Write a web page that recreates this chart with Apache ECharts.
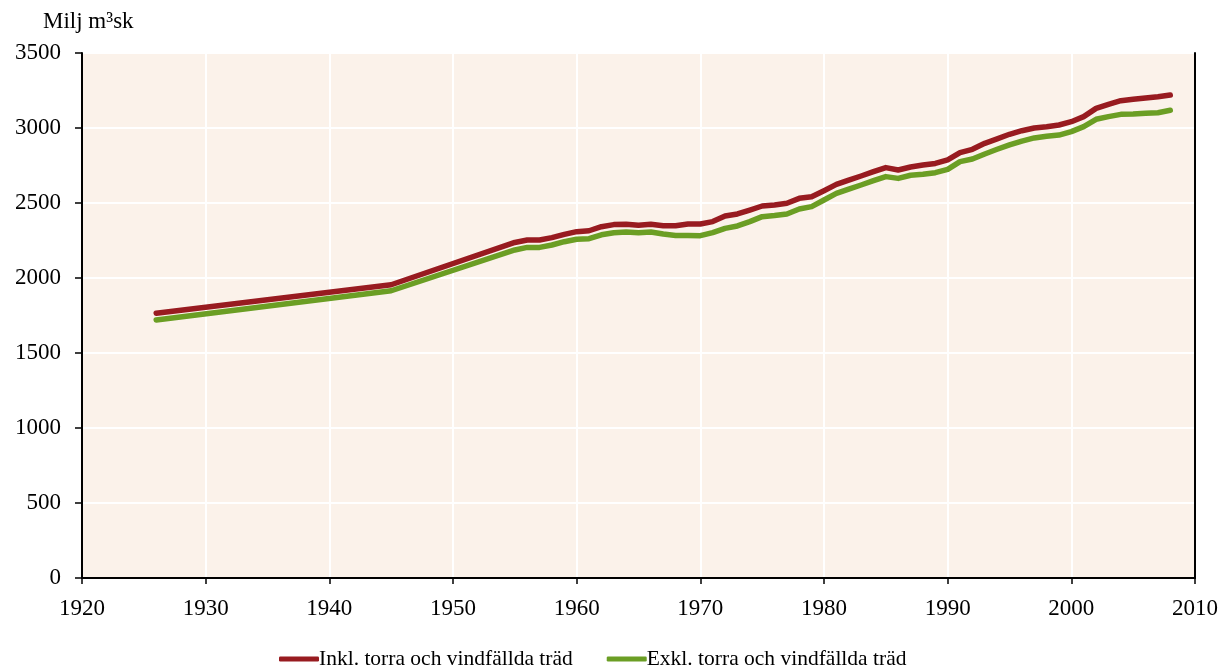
<!DOCTYPE html>
<html>
<head>
<meta charset="utf-8">
<script src="https://cdn.jsdelivr.net/npm/echarts@6/dist/echarts.min.js"></script>
<style>
  html, body { margin: 0; padding: 0; background: #fff; }
  #chart { width: 1230px; height: 670px; }
</style>
</head>
<body>
<div id="chart"></div>
<script>
// år och volymer, milj m3sk
const years = [1926, 1945, 1955, 1956, 1957, 1958, 1959, 1960, 1961, 1962, 1963, 1964, 1965, 1966, 1967, 1968, 1969, 1970,
  1971, 1972, 1973, 1974, 1975, 1976, 1977, 1978, 1979, 1980, 1981, 1982, 1983, 1984, 1985, 1986, 1987, 1988, 1989, 1990,
  1991, 1992, 1993, 1994, 1995, 1996, 1997, 1998, 1999, 2000, 2001, 2002, 2003, 2004, 2005, 2006, 2007, 2008];
const inkl = [1765, 1955, 2237, 2253, 2253, 2269, 2291, 2309, 2315, 2342, 2356, 2358, 2351, 2358, 2349, 2349, 2360, 2360,
  2376, 2413, 2427, 2453, 2480, 2487, 2498, 2531, 2542, 2582, 2624, 2653, 2680, 2709, 2736, 2720, 2740, 2753, 2764, 2787,
  2836, 2858, 2898, 2927, 2958, 2982, 3000, 3009, 3020, 3042, 3076, 3131, 3158, 3182, 3191, 3200, 3209, 3220];
const exkl = [1720, 1915, 2187, 2204, 2204, 2220, 2242, 2258, 2262, 2288, 2302, 2307, 2302, 2307, 2293, 2284, 2284, 2282,
  2302, 2331, 2347, 2376, 2409, 2416, 2427, 2460, 2476, 2520, 2564, 2593, 2620, 2649, 2676, 2664, 2685, 2691, 2702, 2724,
  2776, 2793, 2827, 2858, 2887, 2913, 2934, 2945, 2953, 2976, 3009, 3058, 3076, 3091, 3093, 3098, 3102, 3118];
const seriesNames = ['Inkl. torra och vindfällda träd', 'Exkl. torra och vindfällda träd'];

const font = 'Liberation Serif, Times New Roman, serif';
const chart = echarts.init(document.getElementById('chart'));

const pairs = (vals) => years.map((y, i) => [y, vals[i]]);
const plain = (v) => String(v);

// ram runt ritytan (topp och höger)
const frameAxis = { show: true, lineStyle: { color: '#000', width: 2 } };

chart.setOption({
  animation: false,
  title: {
    text: 'Milj m³sk',
    left: 38, top: 5,
    textStyle: { fontFamily: font, fontSize: 23, fontWeight: 'normal', color: '#000' }
  },
  legend: {
    top: 648,
    left: 279,
    padding: 0,
    itemWidth: 40, itemHeight: 5,
    itemGap: 34,
    icon: 'roundRect',
    textStyle: { fontFamily: font, fontSize: 21.5, color: '#000', padding: [0, 0, 0, -5] },
    data: seriesNames
  },
  grid: {
    left: 82, right: 35, top: 53, bottom: 92,
    show: true,
    backgroundColor: '#FBF2EA',
    borderWidth: 0
  },
  xAxis: [
    {
      type: 'value',
      min: 1920, max: 2010, interval: 10,
      axisLine: { lineStyle: { color: '#000', width: 2 } },
      axisTick: { show: true, length: 6, lineStyle: { color: '#000', width: 1.5 } },
      splitLine: { show: true, lineStyle: { color: '#fff', width: 2 } },
      axisLabel: { fontFamily: font, fontSize: 23, color: '#000', margin: 19, formatter: plain }
    },
    {
      type: 'value', position: 'top',
      min: 1920, max: 2010,
      axisLine: frameAxis,
      axisTick: { show: false }, axisLabel: { show: false }, splitLine: { show: false }
    }
  ],
  yAxis: [
    {
      type: 'value',
      min: 0, max: 3500, interval: 500,
      axisLine: { show: true, lineStyle: { color: '#000', width: 2 } },
      axisTick: { show: true, length: 7, lineStyle: { color: '#000', width: 1.5 } },
      splitLine: { show: true, lineStyle: { color: '#fff', width: 2 } },
      axisLabel: { fontFamily: font, fontSize: 23, color: '#000', margin: 21, formatter: plain }
    },
    {
      type: 'value', position: 'right',
      min: 0, max: 3500,
      axisLine: frameAxis,
      axisTick: { show: false }, axisLabel: { show: false }, splitLine: { show: false }
    }
  ],
  series: [
    {
      name: seriesNames[0], type: 'line', data: pairs(inkl),
      showSymbol: false, color: '#981B20',
      lineStyle: { width: 5.5, cap: 'round', join: 'round' }
    },
    {
      name: seriesNames[1], type: 'line', data: pairs(exkl),
      showSymbol: false, color: '#6B9E24',
      lineStyle: { width: 5.5, cap: 'round', join: 'round' }
    }
  ]
});
</script>
</body>
</html>
